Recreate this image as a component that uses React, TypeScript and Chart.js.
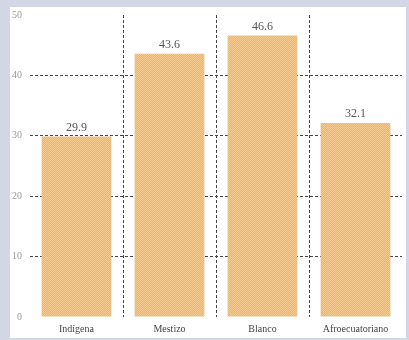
import React, { useEffect, useRef } from "react";
import { Chart, registerables } from "chart.js";

Chart.register(...registerables);

const categories = ["Indígena", "Mestizo", "Blanco", "Afroecuatoriano"];
const values = [29.9, 43.6, 46.6, 32.1];
const valueLabels = ["29.9", "43.6", "46.6", "32.1"];
const yTicks = [0, 10, 20, 30, 40, 50];

function makePattern(): CanvasPattern | string {
  const c = document.createElement("canvas");
  c.width = 2;
  c.height = 2;
  const g = c.getContext("2d");
  if (!g) return "#f0c082";
  g.fillStyle = "#f5ca90";
  g.fillRect(0, 0, 2, 2);
  g.fillStyle = "#e9b576";
  g.fillRect(0, 0, 1, 1);
  g.fillRect(1, 1, 1, 1);
  const p = g.createPattern(c, "repeat");
  return p || "#f0c082";
}

const valueLabelPlugin = {
  id: "valueLabels",
  afterDatasetsDraw(chart: any) {
    const ctx = chart.ctx;
    const meta = chart.getDatasetMeta(0);
    ctx.save();
    ctx.setLineDash([]);
    ctx.font = "12px 'Liberation Serif', serif";
    ctx.fillStyle = "#555";
    ctx.textAlign = "center";
    ctx.textBaseline = "bottom";
    meta.data.forEach((bar: any, i: number) => {
      ctx.fillText(valueLabels[i], bar.x, bar.y - 3);
    });
    ctx.restore();
  },
};

export default function App() {
  const ref = useRef<HTMLCanvasElement>(null);
  useEffect(() => {
    if (!ref.current) return;
    const chart = new Chart(ref.current, {
      type: "bar",
      data: {
        labels: categories,
        datasets: [
          {
            data: values,
            backgroundColor: makePattern() as any,
            borderWidth: 0,
            barPercentage: 0.75,
            categoryPercentage: 1,
          },
        ],
      },
      options: {
        animation: false,
        responsive: false,
        maintainAspectRatio: false,
        layout: { padding: { top: 8, right: 4, left: 0, bottom: 0 } },
        plugins: { legend: { display: false }, tooltip: { enabled: false } },
        scales: {
          x: {
            offset: true,
            border: { display: false, dash: [3, 2] },
            grid: {
              offset: true,
              drawTicks: false,
              color: (c: any) =>
                c.type === "tick" && c.index > 0 ? "#444" : "rgba(0,0,0,0)",
              lineWidth: 1,
            },
            ticks: {
              color: "#444",
              font: { family: "'Liberation Serif', serif", size: 10 },
              padding: 6,
              maxRotation: 0,
            },
            afterFit: (s: any) => {
              s.height = 21;
              s.paddingLeft = 0;
              s.paddingRight = 0;
            },
          },
          y: {
            min: 0,
            max: 50,
            afterBuildTicks: (s: any) => {
              s.ticks = yTicks.map((v) => ({ value: v }));
            },
            border: { display: false, dash: [3, 2] },
            grid: {
              drawTicks: false,
              color: (c: any) =>
                c.tick && c.tick.value > 0 && c.tick.value < 50
                  ? "#444"
                  : "rgba(0,0,0,0)",
              lineWidth: 1,
            },
            ticks: {
              color: "#999",
              font: { family: "'Liberation Serif', serif", size: 10 },
              padding: 8,
            },
            afterFit: (s: any) => {
              s.width = 20;
              s.paddingTop = 0;
              s.paddingBottom = 0;
            },
          },
        },
      },
      plugins: [valueLabelPlugin],
    });
    return () => chart.destroy();
  }, []);

  return (
    <div
      style={{
        position: "fixed",
        left: 0,
        top: 0,
        width: 409,
        height: 340,
        background: "#d3d6e4",
      }}
    >
      <div
        style={{
          position: "absolute",
          left: 10,
          top: 7,
          width: 396,
          height: 331,
          background: "#ffffff",
        }}
      >
        <canvas ref={ref} width={396} height={331} style={{ display: "block" }} />
      </div>
    </div>
  );
}
